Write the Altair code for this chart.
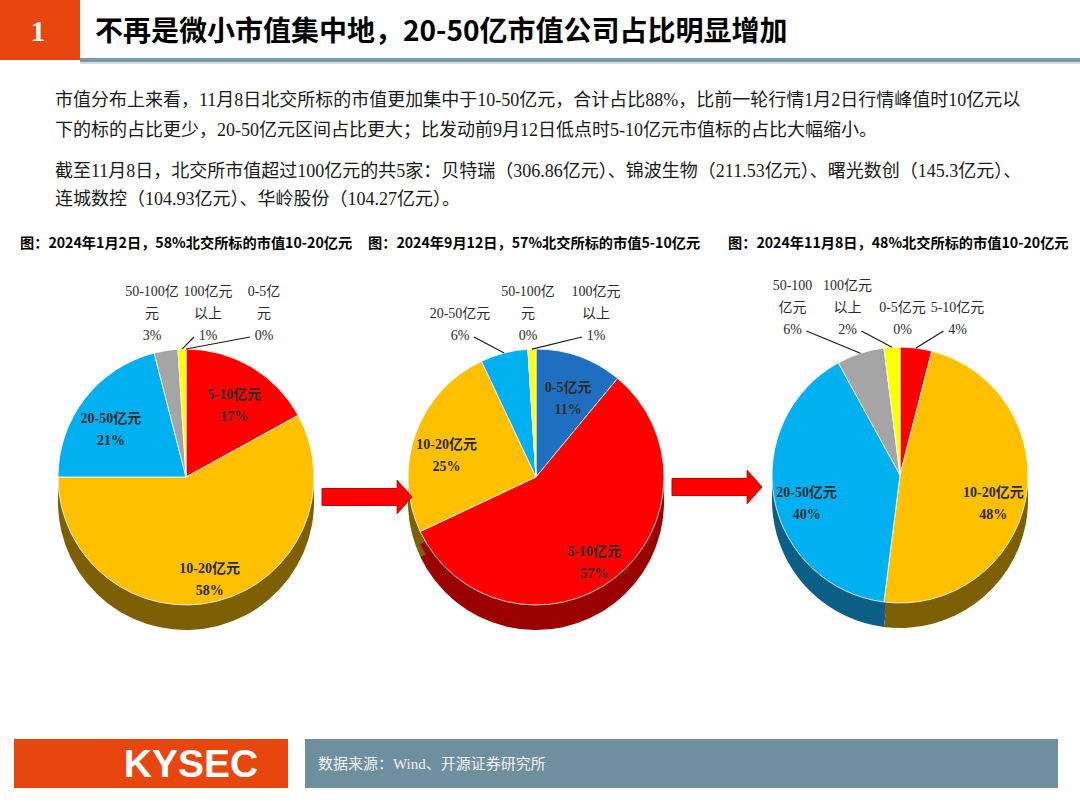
import math
import altair as alt
import pandas as pd

W, H = 1080, 810

# ---------------- data ----------------
CATS = ["0-5亿元", "5-10亿元", "10-20亿元", "20-50亿元", "50-100亿元", "100亿元以上"]
JAN_VALUES = [0, 17, 58, 21, 3, 1]
SEP_VALUES = [11, 57, 25, 6, 0, 1]
NOV_VALUES = [0, 4, 48, 40, 6, 2]

JAN_LABELS = ["0-5亿\n元", "5-10亿元", "10-20亿元", "20-50亿元", "50-100亿\n元", "100亿元\n以上"]
SEP_LABELS = ["0-5亿元", "5-10亿元", "10-20亿元", "20-50亿元", "50-100亿\n元", "100亿元\n以上"]
NOV_LABELS = ["0-5亿元", "5-10亿元", "10-20亿元", "20-50亿元", "50-100\n亿元", "100亿元\n以上"]

PIE_TITLES = [
    "图：2024年1月2日，58%北交所标的市值10-20亿元",
    "图：2024年9月12日，57%北交所标的市值5-10亿元",
    "图：2024年11月8日，48%北交所标的市值10-20亿元",
]
HEADLINE = "不再是微小市值集中地，20-50亿市值公司占比明显增加"
PARAGRAPH = [
    "市值分布上来看，11月8日北交所标的市值更加集中于10-50亿元，合计占比88%，比前一轮行情1月2日行情峰值时10亿元以",
    "下的标的占比更少，20-50亿元区间占比更大；比发动前9月12日低点时5-10亿元市值标的占比大幅缩小。",
    "截至11月8日，北交所市值超过100亿元的共5家：贝特瑞（306.86亿元）、锦波生物（211.53亿元）、曙光数创（145.3亿元）、",
    "连城数控（104.93亿元）、华岭股份（104.27亿元）。",
]
SOURCE = "数据来源：Wind、开源证券研究所"

# ---------------- styles ----------------
TOP_COLORS = ["#1F6FC1", "#FF0000", "#FFC000", "#00B0F0", "#A5A5A5", "#FFFF00"]
SIDE_COLORS = ["#133F70", "#9A0000", "#7D5F05", "#0B5F87", "#5E5E5E", "#8C8C00"]
ORANGE = "#E8460F"
SLATE = "#6E8FA0"
SERIF = "Liberation Serif, Noto Sans CJK SC"
SANS = "Noto Sans CJK SC"
LINE_H = 22

XS = alt.Scale(domain=[0, W], nice=False, zero=False)
YS = alt.Scale(domain=[0, H], nice=False, zero=False, reverse=True)
TS = alt.Scale(domain=[0, 100], range=[0, 2 * math.pi])

one = pd.DataFrame({"k": [0]})


def box(x1, y1, x2, y2, color):
    return alt.Chart(one).mark_rect(color=color).encode(
        x=alt.value(x1), x2=alt.value(x2), y=alt.value(y1), y2=alt.value(y2)
    )


def label(txt, x, y, **kw):
    return alt.Chart(one).mark_text(**kw).encode(
        x=alt.value(x), y=alt.value(y), text=alt.value(txt)
    )


def pie(values, labels, cx, cy, r, depth, lab_y, shift, gap):
    df = pd.DataFrame({"cat": CATS, "val": values, "lab": labels})
    base = (
        alt.Chart(df)
        .transform_window(idx="row_number()")
        .transform_joinaggregate(total="sum(val)")
        .transform_window(cum="sum(val)", frame=[None, 0], sort=[alt.SortField("idx")])
        .transform_calculate(
            t0="100 * (datum.cum - datum.val) / datum.total",
            t1="100 * datum.cum / datum.total",
        )
        .transform_calculate(mid="PI * (datum.t0 + datum.t1) / 100")
        .transform_calculate(
            smid="datum.mid > PI ? datum.mid - 2 * PI : datum.mid",
            pct="datum.val + '%'",
        )
    )
    layers = []
    for off in (depth, depth * 0.5):
        layers.append(
            base.mark_arc(radius=r).encode(
                x=alt.value(cx),
                y=alt.value(cy + off),
                theta=alt.Theta("t0:Q", scale=TS),
                theta2="t1:Q",
                fill=alt.Fill("cat:N", scale=alt.Scale(domain=CATS, range=SIDE_COLORS), legend=None),
            )
        )
    layers.append(
        base.mark_arc(radius=r, stroke="white", strokeWidth=0.8).encode(
            x=alt.value(cx),
            y=alt.value(cy),
            theta=alt.Theta("t0:Q", scale=TS),
            theta2="t1:Q",
            color=alt.Color("cat:N", scale=alt.Scale(domain=CATS, range=TOP_COLORS), legend=None),
        )
    )
    rin = 95
    layers.append(
        base.transform_filter("datum.val >= 10")
        .transform_calculate(
            ix=f"{cx} + {rin} * sin(datum.mid)",
            iy=f"{cy} - {rin} * cos(datum.mid)",
            txt="datum.lab + '\\n' + datum.pct",
        )
        .mark_text(lineBreak="\n", fontSize=14, lineHeight=LINE_H, font=SERIF, color="#2b2b2b",
                   fontWeight="bold", align="center", baseline="middle")
        .encode(x=alt.X("ix:Q", scale=XS, axis=None), y=alt.Y("iy:Q", scale=YS, axis=None),
                text="txt:N")
    )
    outer = (
        base.transform_filter("datum.val < 10")
        .transform_window(rk="row_number()", sort=[alt.SortField("smid")])
        .transform_joinaggregate(n="count()")
        .transform_calculate(
            txt="datum.lab + '\\n' + datum.pct",
            nl="length(split(datum.lab, '\\n')) + 1",
        )
        .transform_calculate(
            lx=f"{cx + shift} + (datum.rk - 1 - (datum.n - 1) / 2) * {gap}",
            ly=f"{lab_y}",
            ty=f"{lab_y} - (datum.nl - 1) * {LINE_H}",
            ex=f"{cx} + {r} * sin(datum.mid)",
            ey=f"{cy} - {r} * cos(datum.mid)",
        )
    )
    layers.append(
        outer.mark_text(lineBreak="\n", fontSize=14, lineHeight=LINE_H, font=SERIF, color="#2b2b2b",
                        align="center", baseline="bottom")
        .encode(x=alt.X("lx:Q", scale=XS, axis=None), y=alt.Y("ty:Q", scale=YS, axis=None),
                text="txt:N")
    )
    layers.append(
        outer.transform_filter("abs(datum.lx - datum.ex) > 22")
        .transform_calculate(
            sx="datum.lx + (datum.ex < datum.lx ? -14 : 14)",
            sy="datum.ly - 6",
        )
        .mark_rule(color="#1a1a1a", strokeWidth=1.2)
        .encode(x=alt.X("sx:Q", scale=XS, axis=None), y=alt.Y("sy:Q", scale=YS, axis=None),
                x2="ex:Q", y2="ey:Q")
    )
    return layers


ARROW = "M-1,-0.19L0.67,-0.19L0.67,-0.37L1,0L0.67,0.37L0.67,0.19L-1,0.19Z"


def arrow(cx, cy, length):
    return alt.Chart(one).mark_point(
        shape=ARROW, size=length * length, filled=True, fill="#FF0000",
        stroke="#C00000", strokeWidth=1, opacity=1, fillOpacity=1,
    ).encode(x=alt.value(cx), y=alt.value(cy))


layers = [
    box(0, 0, W, H, "white"),
    # header
    box(0, 0, 80, 60, ORANGE),
    box(80, 58, W, 62, "#7B9BA8"),
    box(80, 62, W, 64, "#D5DEE2"),
    label("1", 38, 32, font="Liberation Serif", fontSize=30, fontWeight="bold", color="white",
          align="center", baseline="middle"),
    label(HEADLINE, 95, 33, font=SANS, fontSize=28, fontWeight="bold", color="black",
          align="left", baseline="middle"),
]
for txt, y in zip(PARAGRAPH, [101, 131, 172, 200]):
    layers.append(label(txt, 55, y, font=SERIF, fontSize=18, color="#1a1a1a",
                        align="left", baseline="middle"))
for txt, x in zip(PIE_TITLES, [20, 368, 728]):
    layers.append(label(txt, x, 244, font=SANS, fontSize=14.2, fontWeight="bold", color="black",
                        align="left", baseline="middle"))

layers += pie(JAN_VALUES, JAN_LABELS, 186, 477, 128, 25, 343, 22, 56)
layers += pie(SEP_VALUES, SEP_LABELS, 536, 477, 128, 25, 343, -8, 68)
layers += pie(NOV_VALUES, NOV_LABELS, 900, 475, 128, 25, 337, -25, 55)

layers += [
    arrow(367, 497, 90),
    arrow(717, 487, 90),
    # footer
    box(14, 739, 288, 788, ORANGE),
    box(305, 739, 1058, 788, SLATE),
    label("KYSEC", 191, 765, font="Liberation Sans", fontSize=39, fontWeight="bold", color="white",
          align="center", baseline="middle"),
    label(SOURCE, 318, 764, font=SERIF, fontSize=15, color="#F2F2F2", align="left",
          baseline="middle"),
]

chart = (
    alt.layer(*layers)
    .properties(width=W, height=H, padding=0, autosize="none", background="white")
    .configure_view(stroke=None)
)

chart.save("out.html", embed_options={"renderer": "svg", "actions": False})
